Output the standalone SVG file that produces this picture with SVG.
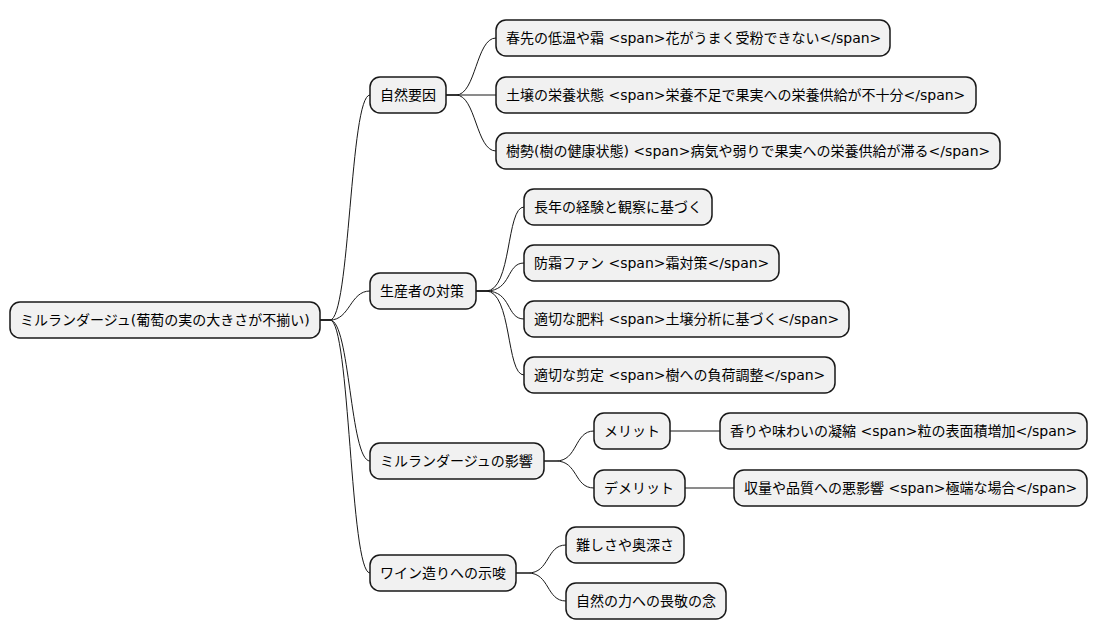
<svg xmlns="http://www.w3.org/2000/svg" width="1099" height="640" viewBox="0 0 1099 640">
<style>
.n rect{fill:#F1F1F1;stroke:#181818;stroke-width:1.5}
.n text{font-family:"DejaVu Sans","Noto Sans CJK JP",sans-serif;font-size:14px;fill:#000;dominant-baseline:central}
#c path{fill:none;stroke:#181818;stroke-width:1}
</style>
<rect width="1099" height="640" fill="#fff"/>
<g id="c">
<path d="M320,320 H330 C350,320 350,95 370,95"/>
<path d="M320,320 H330 C350,320 350,291 370,291"/>
<path d="M320,320 H330 C350,320 350,461 370,461"/>
<path d="M320,320 H330 C350,320 350,573 370,573"/>
<path d="M446,95 H456 C476,95 476,38 496,38"/>
<path d="M446,95 H496"/>
<path d="M446,95 H456 C476,95 476,151 496,151"/>
<path d="M476,291 H486 C512,291 506,207 524,207"/>
<path d="M476,291 H486 C512,291 506,263 524,263"/>
<path d="M476,291 H486 C512,291 506,319 524,319"/>
<path d="M476,291 H486 C512,291 506,375 524,375"/>
<path d="M544,461 H556 C578,461 574,431 594,431"/>
<path d="M544,461 H556 C578,461 574,488 594,488"/>
<path d="M670,431 H720"/>
<path d="M685,488 H734"/>
<path d="M516,573 H528 C550,573 546,545 566,545"/>
<path d="M516,573 H528 C550,573 546,601 566,601"/>
</g>
<g id="root" class="n"><rect x="10" y="302" width="310" height="36" rx="10"/><text x="20" y="320">ミルランダージュ(葡萄の実の大きさが不揃い)</text></g>
<g id="n1" class="n"><rect x="370" y="77" width="76" height="36" rx="10"/><text x="380" y="95">自然要因</text></g>
<g id="n2" class="n"><rect x="370" y="273" width="106" height="36" rx="10"/><text x="380" y="291">生産者の対策</text></g>
<g id="n3" class="n"><rect x="370" y="443" width="174" height="36" rx="10"/><text x="380" y="461">ミルランダージュの影響</text></g>
<g id="n4" class="n"><rect x="370" y="555" width="146" height="36" rx="10"/><text x="380" y="573">ワイン造りへの示唆</text></g>
<g id="n11" class="n"><rect x="496" y="20" width="394" height="36" rx="10"/><text x="506" y="38">春先の低温や霜 &lt;span&gt;花がうまく受粉できない&lt;/span&gt;</text></g>
<g id="n12" class="n"><rect x="496" y="77" width="480" height="36" rx="10"/><text x="506" y="95">土壌の栄養状態 &lt;span&gt;栄養不足で果実への栄養供給が不十分&lt;/span&gt;</text></g>
<g id="n13" class="n"><rect x="496" y="133" width="504" height="36" rx="10"/><text x="506" y="151">樹勢(樹の健康状態) &lt;span&gt;病気や弱りで果実への栄養供給が滞る&lt;/span&gt;</text></g>
<g id="n21" class="n"><rect x="524" y="189" width="188" height="36" rx="10"/><text x="534" y="207">長年の経験と観察に基づく</text></g>
<g id="n22" class="n"><rect x="524" y="245" width="255" height="36" rx="10"/><text x="534" y="263">防霜ファン &lt;span&gt;霜対策&lt;/span&gt;</text></g>
<g id="n23" class="n"><rect x="524" y="301" width="325" height="36" rx="10"/><text x="534" y="319">適切な肥料 &lt;span&gt;土壌分析に基づく&lt;/span&gt;</text></g>
<g id="n24" class="n"><rect x="524" y="357" width="311" height="36" rx="10"/><text x="534" y="375">適切な剪定 &lt;span&gt;樹への負荷調整&lt;/span&gt;</text></g>
<g id="n31" class="n"><rect x="594" y="413" width="76" height="36" rx="10"/><text x="604" y="431">メリット</text></g>
<g id="n32" class="n"><rect x="594" y="470" width="91" height="36" rx="10"/><text x="604" y="488">デメリット</text></g>
<g id="n311" class="n"><rect x="720" y="413" width="367" height="36" rx="10"/><text x="730" y="431">香りや味わいの凝縮 &lt;span&gt;粒の表面積増加&lt;/span&gt;</text></g>
<g id="n321" class="n"><rect x="734" y="470" width="353" height="36" rx="10"/><text x="744" y="488">収量や品質への悪影響 &lt;span&gt;極端な場合&lt;/span&gt;</text></g>
<g id="n41" class="n"><rect x="566" y="527" width="118" height="36" rx="10"/><text x="576" y="545">難しさや奥深さ</text></g>
<g id="n42" class="n"><rect x="566" y="583" width="160" height="36" rx="10"/><text x="576" y="601">自然の力への畏敬の念</text></g>
</svg>
